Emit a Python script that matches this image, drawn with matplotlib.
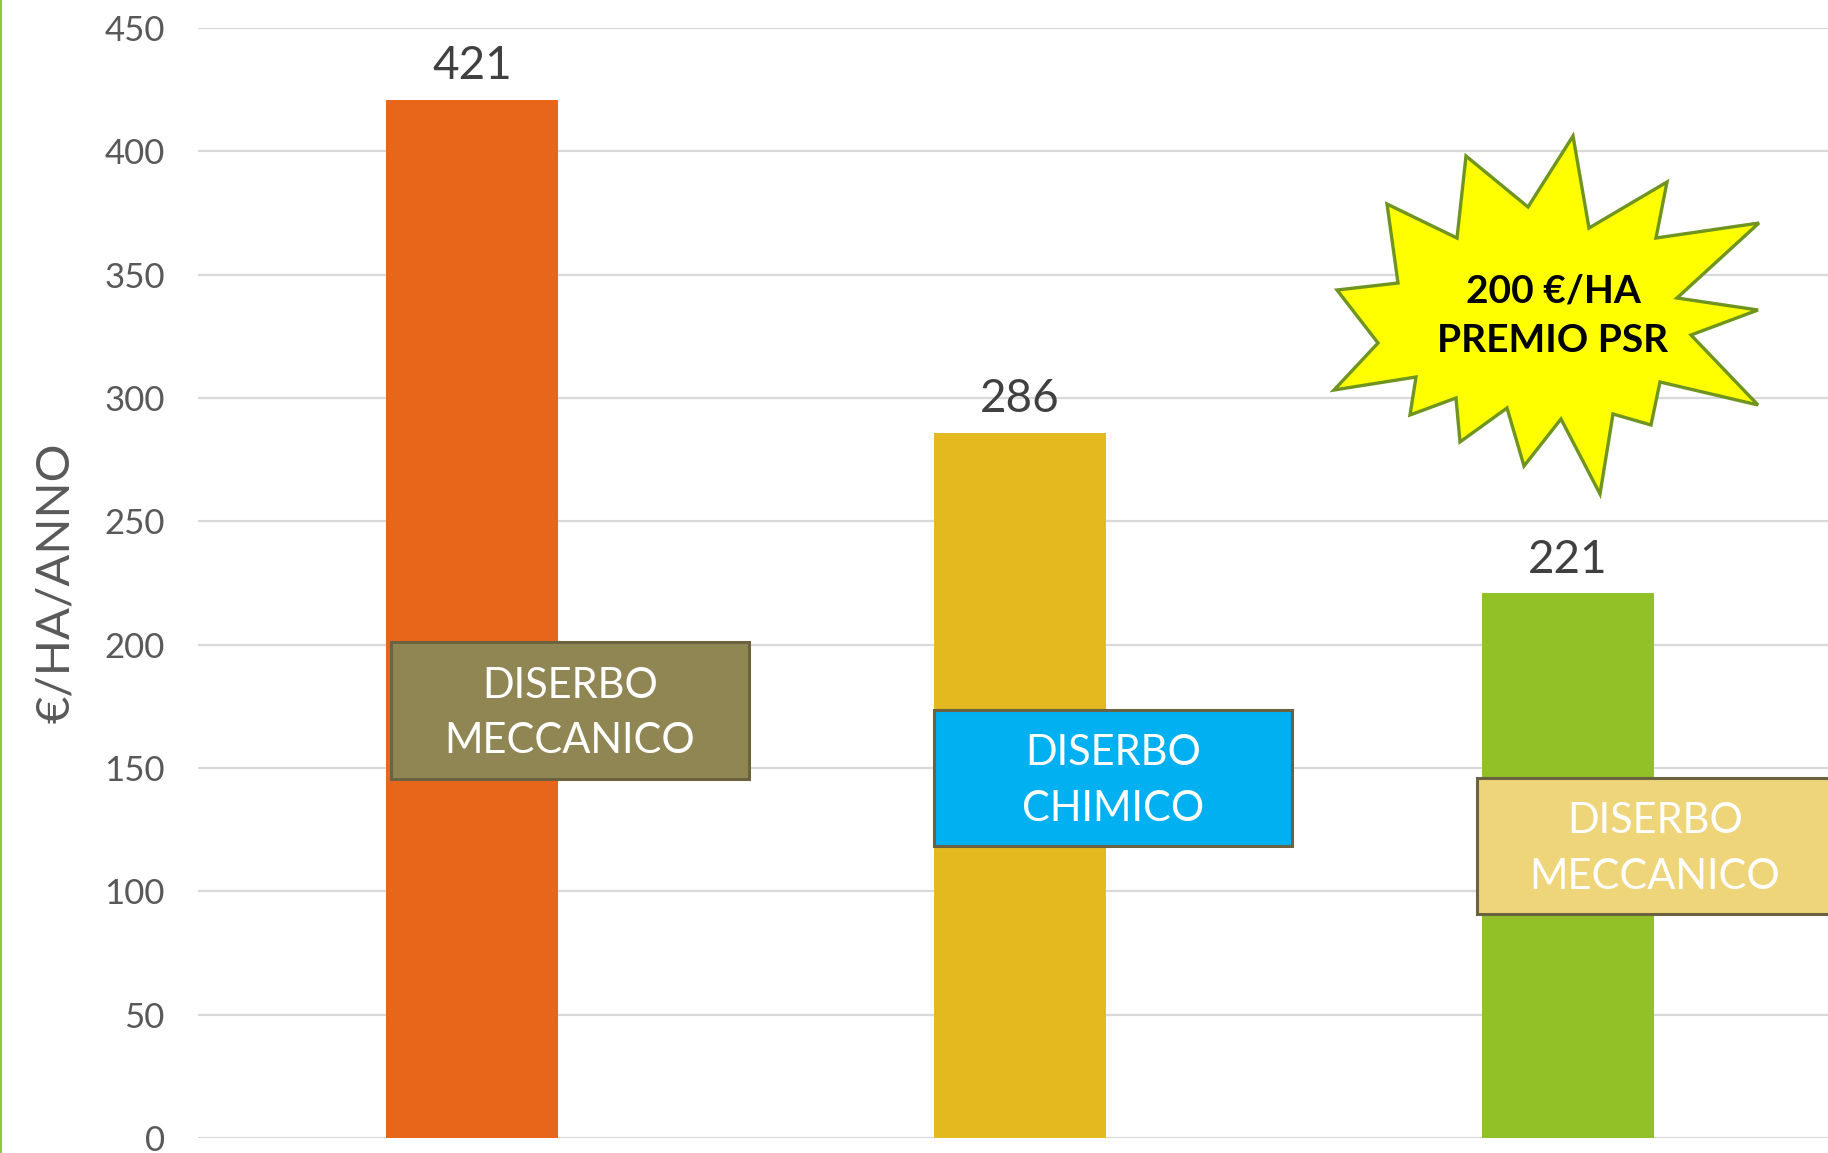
import numpy as np
import matplotlib.pyplot as plt
from matplotlib.patches import Polygon, Rectangle
from matplotlib.lines import Line2D

W, H = 1828, 1153

# data
categories = ['Diserbo meccanico', 'Diserbo chimico', 'Diserbo meccanico + PSR']
values = [421, 286, 221]
bar_colors = ['#E8661A', '#E3B91F', '#91C027']
yticks = [0, 50, 100, 150, 200, 250, 300, 350, 400, 450]

box_texts = ['DISERBO\nMECCANICO', 'DISERBO\nCHIMICO', 'DISERBO\nMECCANICO']
box_colors = ['#8F8654', '#00B0F0', '#EED57A']

star_text = '200 €/HA\nPREMIO PSR'

plt.rcParams['font.family'] = ['Lato', 'DejaVu Sans']


def fx(px):
    return px / W


def fy(py):
    return 1 - py / H


fig = plt.figure(figsize=(W / 100, H / 100), dpi=100)
fig.patch.set_facecolor('white')

# axes spans past the right edge, like the original slide crop
ax_left, ax_right, ax_top, ax_bot = 198, 1842, 28, 1138
ax = fig.add_axes([fx(ax_left), fy(ax_bot), fx(ax_right - ax_left), (ax_bot - ax_top) / H])
ax.set_facecolor('none')

x = np.arange(len(values))
ax.bar(x, values, width=0.314, color=bar_colors, zorder=2)
ax.set_xlim(-0.5, len(values) - 0.5)
ax.set_ylim(0, 450)
ax.set_yticks(yticks)
ax.set_xticks([])
ax.yaxis.grid(True, color='#D9D9D9', linewidth=1.6, zorder=0)
ax.set_axisbelow(True)
for s in ax.spines.values():
    s.set_visible(False)
ax.tick_params(axis='y', length=0, pad=24, labelsize=25, labelcolor='#595959')

for xi, v in zip(x, values):
    ax.text(xi, v + 5, str(v), ha='center', va='bottom', fontsize=33, color='#404040')

fig.text(fx(56), fy(583), '€/HA/ANNO', rotation=90, ha='center', va='center',
         fontsize=34, color='#595959')

# left green border
fig.add_artist(Line2D([fx(1), fx(1)], [0, 1], color='#92C83E', linewidth=1.5))

# label boxes (pixel positions: left, top, right, bottom)
boxes = [(391, 642, 749, 779), (934, 710, 1292, 846), (1477, 778, 1860, 914)]
for (l, t, r, b), txt, col in zip(boxes, box_texts, box_colors):
    fig.add_artist(Rectangle((fx(l), fy(b)), fx(r - l), (b - t) / H,
                             facecolor=col, edgecolor='#6B6340', linewidth=2.2, zorder=5))
    cx = (l + r) / 2
    if r > W:
        cx = 1655
    cy = (t + b) / 2 + 3
    fig.text(fx(cx), fy(cy), txt, ha='center', va='center', color='white',
             fontsize=30, linespacing=1.55, zorder=6)

# star burst
star_px = [(1573, 136), (1589, 228), (1667, 182), (1656, 238), (1759, 223), (1677, 298),
           (1758, 310), (1691, 335), (1758, 405), (1660, 382), (1651, 425), (1613, 414),
           (1600, 494), (1561, 419), (1524, 466), (1507, 408), (1460, 442), (1456, 398),
           (1410, 415), (1416, 377), (1334, 390), (1378, 343), (1337, 290), (1398, 283),
           (1387, 204), (1457, 238), (1466, 156), (1528, 207)]
star = Polygon([(fx(a), fy(b)) for a, b in star_px], closed=True, facecolor='#FFFF00',
               edgecolor='#6F9420', linewidth=2.4, joinstyle='miter', zorder=5)
fig.add_artist(star)
fig.text(fx(1553), fy(316), star_text, ha='center', va='center', fontsize=28,
         fontweight='bold', color='black', linespacing=1.5, zorder=6)

fig.savefig('out.png', dpi=100)
